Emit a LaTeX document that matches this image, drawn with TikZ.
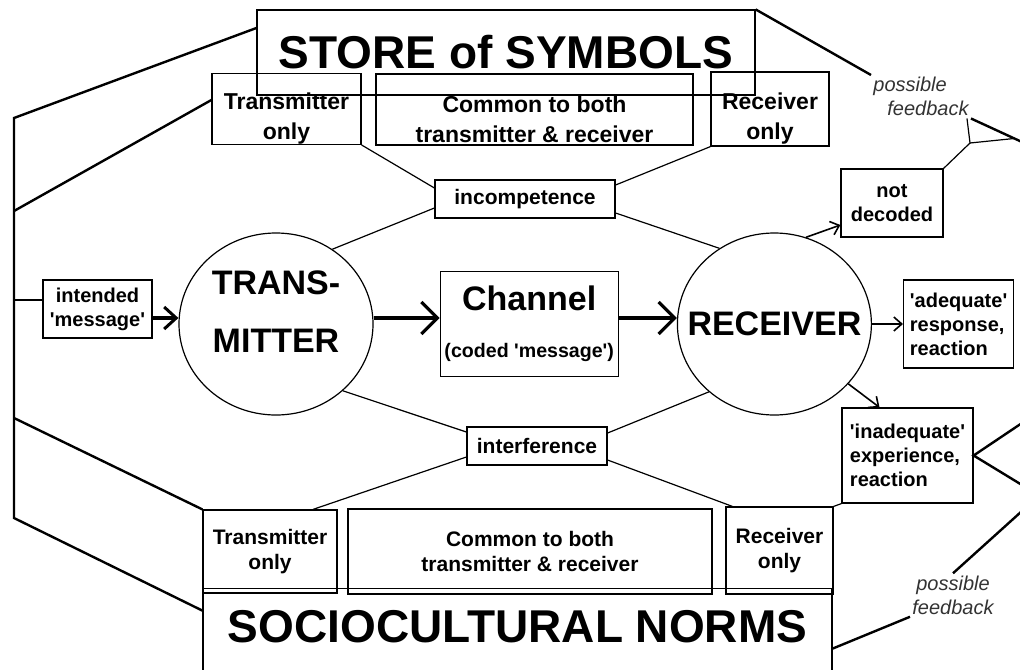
\documentclass[tikz,border=0pt]{standalone}
\usepackage{fontspec}
\setmainfont{Liberation Sans}
\usepackage{tikz}
\usetikzlibrary{
  positioning,
  shapes.geometric,
  arrows.meta,
  calc
}
\newcommand{\sq}[1]{\textquotesingle#1\textquotesingle}
\tikzset{
  box/.style={draw, line width=0.6pt, inner sep=0pt, align=center,
    font=\bfseries\fontsize{10.5}{12.6}\selectfont},
  topbox/.style={box, text height=33pt, font=\bfseries\fontsize{11.5}{15}\selectfont},
  sidebox/.style={box, font=\bfseries\fontsize{10}{12}\selectfont},
  bigbox/.style={box, font=\bfseries\fontsize{23}{27}\selectfont},
  party/.style={ellipse, draw, line width=0.6pt, inner sep=0pt,
    minimum width=97pt, minimum height=91pt},
  partytext/.style={inner sep=0pt, align=center,
    font=\bfseries\fontsize{17}{29}\selectfont},
  note/.style={inner sep=1pt, align=center, text=black!80,
    font=\itshape\fontsize{10}{12}\selectfont},
  frame/.style={line width=1.2pt},
  link/.style={line width=0.6pt},
  flow/.style={line width=2.2pt,
    -{Straight Barb[length=8pt,width=16pt,line width=1.6pt]}},
  resp/.style={line width=0.8pt, -{Straight Barb[length=4pt,width=7pt]}}
}

\begin{document}
\begin{tikzpicture}[x=0.5pt, y=-0.5pt]
    \useasboundingbox (0,0) rectangle (1020,669);
    \clip (0,0) rectangle (1020,669);
    \fill[white] (0,0) rectangle (1020,669);

    % store of symbols
    \node[bigbox, minimum width=249pt, minimum height=42.5pt] (store) at (506,52.5) {STORE of SYMBOLS};
    \node[topbox, minimum width=74.5pt, minimum height=35pt] (ttx) at (286.5,109) {Transmitter\\only};
    \node[topbox, minimum width=158.5pt, minimum height=35.5pt] (tcom) at (534.5,109.5) {Common to both\\transmitter \& receiver};
    \node[topbox, minimum width=59pt, minimum height=37pt] (trx) at (770,109) {Receiver\\only};
    \node[box, minimum width=90pt, minimum height=19pt] (incomp) at (525,199) {incompetence};

    % main line
    \node[sidebox, minimum width=54.5pt, minimum height=29pt] (intended) at (97.5,309) {intended\\\sq{message}};
    \node[party] (tx) at (276,324) {};
    \node[partytext, yshift=6pt] (txname) at (tx) {TRANS-\\MITTER};
    \node[box, right=33pt of tx, minimum width=89pt, minimum height=52.5pt,
      font=\bfseries\fontsize{17}{20}\selectfont] (chan) {Channel\\[3.5pt]{\fontsize{9.8}{12}\selectfont(coded \sq{message})}};
    \node[party, right=29pt of chan] (rx) {};
    \node[partytext] (rxname) at (rx) {RECEIVER};
    \node[sidebox, align=left, right=15.5pt of rx, minimum width=55pt, minimum height=44pt] (adq) {\sq{adequate}\\response,\\reaction};
    \node[sidebox, minimum width=51pt, minimum height=34pt] (nd) at (892,203) {not\\decoded};
    \node[sidebox, align=left, minimum width=65.5pt, minimum height=47.5pt] (inad) at (907.5,455.5) {\sq{inadequate}\\experience,\\reaction};

    % sociocultural norms
    \node[box, minimum width=70pt, minimum height=19pt] (interf) at (537,446) {interference};
    \node[box, minimum width=67pt, minimum height=41.5pt] (btx) at (270,551.5) {Transmitter\\only};
    \node[box, minimum width=182pt, minimum height=42.5pt] (bcom) at (530,551.5) {Common to both\\transmitter \& receiver};
    \node[box, minimum width=53.5pt, minimum height=43.5pt] (brx) at (779.5,550.5) {Receiver\\only};
    \node[bigbox, anchor=north, text depth=7pt, minimum width=314.5pt, minimum height=45pt] (socio) at (517.5,588) {SOCIOCULTURAL NORMS};

    \node[note, anchor=north west, align=left] (fbtop) at (871,75) {possible\\\hspace*{7pt}feedback};
    \node[note] (fbbot) at (953,595) {possible\\feedback};

    \coordinate (ftop) at (14,118);
    \coordinate (fmid) at (14,211);
    \coordinate (fin) at (14,300);
    \coordinate (flo) at (14,418);
    \coordinate (fbot) at (14,518);
    \coordinate (edge1) at (1022,142);
    \coordinate (edge2) at (1022,423);
    \coordinate (edge3) at (1022,485);
    \coordinate (edge4) at (1022,511);
    \coordinate (fork) at (970,143);
    \coordinate (fbhit) at ($(fbtop.south east)!0.85!(edge1)$);

    % outer frame
    \draw[frame] ([yshift=12.25pt]store.west) -- (ftop) -- (fbot) -- ([yshift=11.5pt]socio.west);
    \draw[frame] ([yshift=4.5pt]ttx.west) -- (fmid);
    \draw[frame] (flo) -- (btx.north west);
    \draw[link] (fin) -- ([yshift=4.5pt]intended.west);

    % feedback
    \draw[frame] (store.north east) -- (fbtop.north west);
    \draw[frame] (fbtop.south east) -- (edge1);
    \draw[link] (nd.north east) -- (fork) -- ([xshift=-2pt]fbtop.south east);
    \draw[link] (fork) -- (fbhit);
    \draw[frame] (edge2) -- (inad.east) -- (edge3);
    \draw[frame] ([yshift=-7.5pt]socio.east) -- (fbbot.south west);
    \draw[frame] (fbbot.north) -- (edge4);

    % incompetence and interference
    \draw[link] (ttx.south east) -- ([yshift=5.5pt]incomp.west);
    \draw[link] ([yshift=-4.5pt]incomp.west) -- (tx.53);
    \draw[link] (trx.south west) -- ([yshift=7pt]incomp.east);
    \draw[link] ([yshift=-7pt]incomp.east) -- (rx.126);
    \draw[link] (tx.-45) -- ([yshift=7pt]interf.west);
    \draw[link] ([yshift=-5.5pt]interf.west) -- ([xshift=21.5pt]btx.north);
    \draw[link] (rx.-134) -- ([yshift=6.5pt]interf.east);
    \draw[link] ([yshift=-7pt]interf.east) -- ([xshift=3.5pt]brx.north west);
    \draw[link] (brx.north east) -- (inad.south west);

    % message flow
    \draw[flow, -{Straight Barb[length=6pt,width=11pt,line width=1.5pt]}] ([yshift=-4.5pt]intended.east) -- ([yshift=3pt]tx.west);
    \draw[flow] ([yshift=3pt]tx.east) -- ([yshift=3pt]chan.west);
    \draw[flow] ([yshift=3pt]chan.east) -- ([yshift=3pt]rx.west);
    \draw[resp] (rx.70) -- ([yshift=-11pt]nd.west);
    \draw[resp] (rx) -- (adq);
    \draw[resp] (rx.-39) -- ([xshift=-14pt]inad.north);
\end{tikzpicture}
\end{document}
